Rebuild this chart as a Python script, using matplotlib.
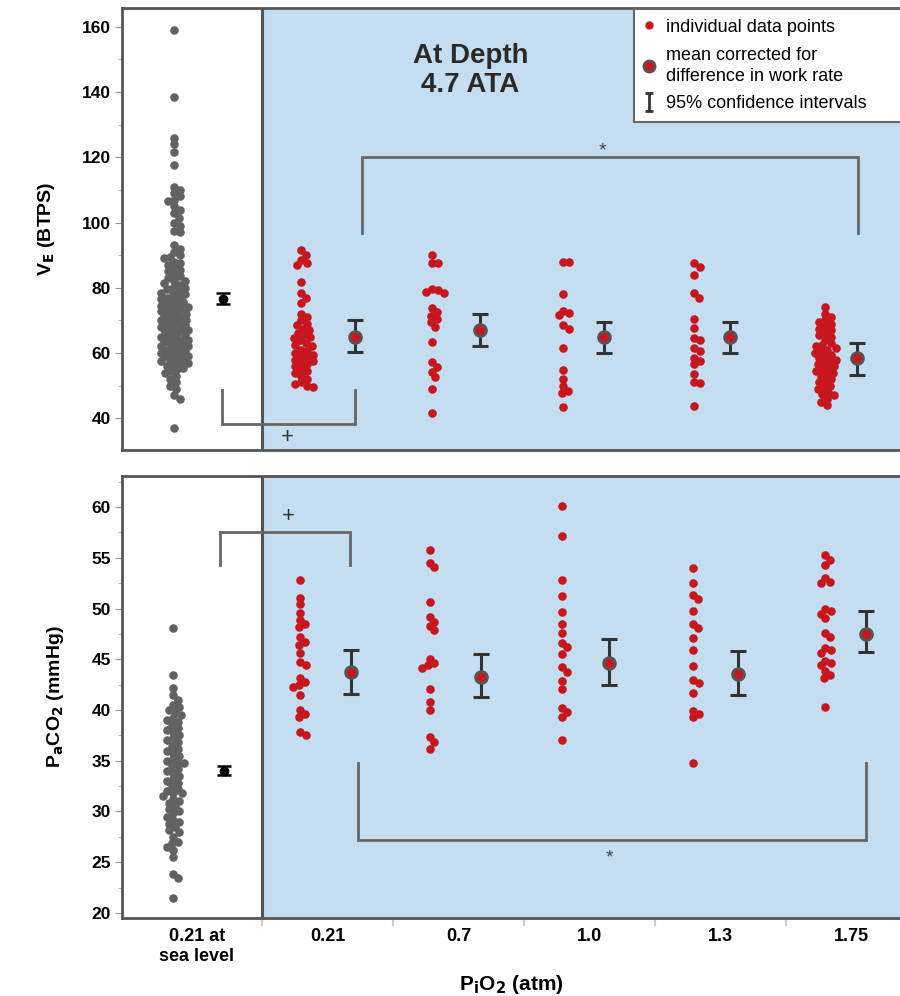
import numpy as np
import matplotlib
matplotlib.use("Agg")
import matplotlib.pyplot as plt
from matplotlib.lines import Line2D

plt.rcParams['font.family'] = ['Liberation Sans', 'DejaVu Sans']

# categories
groups = ["0.21 at\nsea level", "0.21", "0.7", "1.0", "1.3", "1.75"]

# ---- VE (BTPS), top panel ----
ve_sea = [159, 138.5, 126, 124, 121.5, 117.5, 111, 110, 109, 108, 107, 106.5, 105, 104, 103,
          101.5, 100, 99, 97.5, 97,
          93, 92, 91, 90, 89.5, 89, 88, 87.5, 87, 86, 85.5, 85, 84, 83.5, 83, 82, 82, 81.5,
          81, 80, 80, 79.5, 79, 78.5, 78, 78, 77, 77, 76.5, 76, 75.5, 75, 75, 74.5, 74, 74,
          73.5, 73, 73, 72.5, 72, 72, 71.5, 71, 71, 70.5, 70, 70, 69.5, 69, 69, 68.5, 68, 68,
          67.5, 67, 67, 66.5, 66, 66, 65.5, 65, 65, 64.5, 64, 64, 63.5, 63, 63, 62.5, 62, 62,
          61.5, 61, 61, 60.5, 60, 60, 60, 59.5, 59, 59, 58.5, 58, 58, 57.5, 57, 57, 56.5, 56,
          55.5, 55, 54.5, 54, 53, 52, 51, 50, 49, 47, 46, 37]
ve_021 = [91.5, 90, 88.5, 87.5, 87, 81.7, 78.3, 76.8, 75.3, 72, 71, 70, 69, 68.5, 67.5, 67,
          66, 65.5, 65, 64.5, 64, 63, 62.5, 62, 61, 60.5, 60, 59.5, 59, 58.5, 58, 57.5, 57,
          56.5, 56, 55, 54.5, 54, 53, 52, 51, 50.5, 50, 49.5]
ve_07 = [90, 87.5, 87.5, 79.5, 79.3, 78.7, 78.5, 73.7, 72.5, 71.5, 70.5, 69.5, 68, 63.3,
         57.2, 55.7, 54.2, 52.6, 48.9, 41.5]
ve_10 = [88, 88, 78, 73, 72.2, 71.6, 68.5, 67.5, 61.5, 54.7, 52, 50, 48.5, 47.7, 43.4]
ve_13 = [87.5, 86.5, 84, 78.3, 77, 70.4, 67.6, 64.5, 64, 61.5, 60.5, 58.4, 57.5, 56.5,
         53.5, 51, 50.7, 43.7]
ve_175 = [74, 72, 71, 70, 69.5, 69, 68, 67.5, 67, 66, 65.5, 65, 64, 63, 62.4, 62, 61.5, 61,
          60.5, 60, 59.5, 59, 58.5, 58, 57.5, 57, 56.5, 56, 55.5, 55, 54.5, 54, 53.5, 53, 52,
          51.5, 51, 50, 49.5, 49, 48, 47.5, 47, 46, 45, 44]
ve_mean = [76.5, 65, 67, 65, 65, 58.4]
ve_lo = [75.0, 60.2, 62, 60, 60, 53.2]
ve_hi = [78.3, 70, 72, 69.5, 69.5, 63]

# ---- PaCO2 (mmHg), bottom panel ----
pa_sea = [48.1, 43.4, 42.2, 41.5, 41, 40.5, 40.3, 40, 39.8, 39.5, 39.2, 39, 38.8, 38.5,
          38.2, 38, 37.8, 37.5, 37.2, 37, 36.8, 36.5, 36.2, 36, 35.8, 35.5, 35.2, 35, 34.8,
          34.8, 34.5, 34.2, 34, 33.8, 33.5, 33.2, 33, 32.8, 32.5, 32.2, 32, 31.8, 31.8, 31.5,
          31.2, 31, 30.8, 30.5, 30.2, 30, 29.8, 29.5, 29.2, 29, 28.8, 28.5, 28.2, 28, 27.5,
          27, 26.9, 26.5, 26.2, 25.5, 23.8, 23.4, 21.5]
pa_021 = [52.8, 51, 50.4, 49.6, 48.9, 48.5, 48.2, 47.2, 46.7, 46.4, 45.6, 44.7, 44.4, 43.2,
          42.8, 42.5, 42.3, 41.5, 40, 39.6, 39.3, 37.8, 37.5]
pa_07 = [55.8, 54.5, 54.1, 50.6, 49.2, 48.7, 48.3, 47.9, 45, 44.6, 44.4, 44.1, 42.1, 40.8,
         40, 37.3, 36.8, 36.2]
pa_10 = [60.1, 57.1, 52.8, 51.2, 49.7, 48.5, 47.6, 46.6, 46.2, 45.5, 44.2, 43.7, 42.9, 42.1,
         40.2, 39.8, 39.3, 37]
pa_13 = [54, 52.5, 51.3, 50.9, 49.8, 48.5, 48.1, 47.1, 45.9, 44.3, 43, 42.7, 41.7, 39.9,
         39.6, 39.3, 34.8]
pa_175 = [55.3, 54.8, 54.3, 53, 52.6, 52.5, 50, 49.8, 49.5, 49.1, 47.6, 47.2, 46.1, 45.9,
          45.6, 44.8, 44.6, 44.4, 43.8, 43.4, 43.2, 40.3]
pa_mean = [34.0, 43.7, 43.3, 44.6, 43.5, 47.5]
pa_lo = [33.6, 41.6, 41.3, 42.5, 41.5, 45.7]
pa_hi = [34.5, 45.9, 45.5, 47.0, 45.8, 49.8]

ve_pts = [ve_sea, ve_021, ve_07, ve_10, ve_13, ve_175]
pa_pts = [pa_sea, pa_021, pa_07, pa_10, pa_13, pa_175]

RED = "#c8161e"
GRAY_PT = "#626262"
BLUE = "#c5ddf1"
FRAME = "#555555"
PX_X = 131.0  # pixels per category


def swarm(vals, px_per_unit, diam=8.5, step=1.5, maxoff=14.0):
    # simple beeswarm in pixel space, offsets capped so dense groups overlap
    placed = []
    offs = np.zeros(len(vals))
    order = np.argsort(vals)[::-1]
    nk = int(maxoff / step)
    for i in order:
        y = vals[i] * px_per_unit
        best, best_d = 0.0, -1.0
        for k in range(nk + 1):
            cands = [0.0] if k == 0 else [k * step, -k * step]
            for c in cands:
                d = min([np.hypot(c - ox, y - oy) for ox, oy in placed] + [1e9])
                if d >= 0.7 * diam:
                    best, best_d = c, 1e9
                    break
                if d > best_d:
                    best, best_d = c, d
            if best_d >= 1e9:
                break
        placed.append((best, y))
        offs[i] = best
    return offs / PX_X


fig = plt.figure(figsize=(9, 9.96), dpi=100)
ax1 = fig.add_axes([0.1356, 0.548, 0.8644, 0.444])
ax2 = fig.add_axes([0.1356, 0.0783, 0.8644, 0.4437])

panels = [
    (ax1, ve_pts, ve_mean, ve_lo, ve_hi, (30.2, 165.8), 3.26,
     [-0.17, -0.2, -0.2, -0.2, -0.2, -0.2], [0.2, 0.21, 0.16, 0.11, 0.07, 0.04]),
    (ax2, pa_pts, pa_mean, pa_lo, pa_hi, (19.5, 63.05), 10.15,
     [-0.18, -0.21, -0.22, -0.21, -0.21, -0.2], [0.21, 0.18, 0.17, 0.15, 0.13, 0.11]),
]

for ax, pts, mean, lo, hi, ylim, pxu, poff, moff in panels:
    ax.set_xlim(-0.57, 5.37)
    ax.set_ylim(*ylim)
    ax.axvspan(0.5, 5.37, color=BLUE, zorder=0, lw=0)
    ax.axvline(0.5, color=FRAME, lw=2.2, zorder=1)
    for i, vals in enumerate(pts):
        v = np.array(vals, dtype=float)
        xs = i + poff[i] + swarm(v, pxu)
        col = GRAY_PT if i == 0 else RED
        ax.scatter(xs, v, s=38, color=col, lw=0, zorder=3)
        xm = i + moff[i]
        err = [[mean[i] - lo[i]], [hi[i] - mean[i]]]
        if i == 0:
            ax.errorbar([xm], [mean[i]], yerr=err, fmt='o', color='black', ms=6,
                        capsize=5, elinewidth=1.8, capthick=1.8, zorder=4)
        else:
            ax.errorbar([xm], [mean[i]], yerr=err, fmt='none', ecolor='#333333',
                        capsize=6, elinewidth=2.2, capthick=2.2, zorder=4)
            ax.plot([xm], [mean[i]], 'o', mfc=RED, mec='#555555', mew=2, ms=8.5, zorder=5)
    for s in ['left', 'top', 'bottom']:
        ax.spines[s].set_color(FRAME)
        ax.spines[s].set_linewidth(2)
    ax.spines['right'].set_visible(False)
    ax.tick_params(axis='y', which='major', length=5, color='#999999', labelsize=12.5, pad=3)
    ax.tick_params(axis='y', which='minor', length=3, color='#aaaaaa')

# top panel ticks and labels
ax1.set_yticks(np.arange(40, 161, 20))
ax1.set_yticks(np.arange(40, 166, 10), minor=True)
for lab in ax1.get_yticklabels():
    lab.set_fontweight('bold')
ax1.set_xticks([])
ax1.set_ylabel("V$_\\mathbf{E}$ (BTPS)", fontsize=14, fontweight='bold', labelpad=18)

ax2.set_yticks(np.arange(20, 61, 5))
ax2.set_yticks(np.arange(20, 63, 2.5), minor=True)
for lab in ax2.get_yticklabels():
    lab.set_fontweight('bold')
ax2.set_xticks(range(len(groups)))
ax2.set_xticklabels(groups, fontsize=13, fontweight='bold', linespacing=1.25)
ax2.set_xticks([0.5, 1.5, 2.5, 3.5, 4.5], minor=True)
ax2.tick_params(axis='x', which='major', length=0, pad=7)
ax2.tick_params(axis='x', which='minor', length=6, color='#cccccc', width=1.5)
ax2.set_ylabel("P$_\\mathbf{a}$CO$_\\mathbf{2}$ (mmHg)", fontsize=14, fontweight='bold', labelpad=18)
ax2.set_xlabel("P$_\\mathbf{i}$O$_\\mathbf{2}$ (atm)", fontsize=15, fontweight='bold', labelpad=6)

# significance brackets
BR = dict(color='#666666', lw=2, zorder=2, solid_joinstyle='miter')
ax1.plot([1.26, 1.26, 5.05, 5.05], [96.7, 120, 120, 96.7], **BR)
ax1.text(3.10, 122, "*", ha='center', va='center', fontsize=14, color='#444444')
ax1.plot([0.19, 0.19, 1.21, 1.21], [48.6, 38.2, 38.2, 48.6], **BR)
ax1.text(0.69, 34.2, "+", ha='center', va='center', fontsize=16, color='#333333')
ax2.plot([0.18, 0.18, 1.17, 1.17], [54.3, 57.5, 57.5, 54.3], **BR)
ax2.text(0.70, 59.1, "+", ha='center', va='center', fontsize=16, color='#333333')
ax2.plot([1.23, 1.23, 5.11, 5.11], [34.8, 27.2, 27.2, 34.8], **BR)
ax2.text(3.155, 25.4, "*", ha='center', va='center', fontsize=14, color='#444444')

ax1.text(2.09, 146.5, "At Depth\n4.7 ATA", ha='center', va='center', fontsize=20,
         fontweight='bold', color='#2a2a2a', linespacing=1.15)

# legend
h1 = Line2D([], [], ls='', marker='o', color=RED, ms=5)
h2 = Line2D([], [], ls='', marker='o', mfc=RED, mec='#555555', mew=2, ms=8)
h3 = ax1.errorbar([np.nan], [np.nan], yerr=[1], fmt='none', ecolor='#333333',
                  capsize=3, elinewidth=2, capthick=2)
leg = ax1.legend([h1, h2, h3],
                 ["individual data points", "mean corrected for\ndifference in work rate",
                  "95% confidence intervals"],
                 loc='upper left', bbox_to_anchor=(0.658, 0.998, 0.36, 0), mode='expand',
                 fontsize=13, frameon=True, fancybox=False, edgecolor='#666666',
                 framealpha=1, handlelength=0.6, handletextpad=0.6, borderpad=0.55,
                 labelspacing=0.6, borderaxespad=0)
leg.get_frame().set_linewidth(1.5)
for t in leg.get_texts():
    t.set_linespacing(1.3)

fig.savefig("out.png", dpi=100)
